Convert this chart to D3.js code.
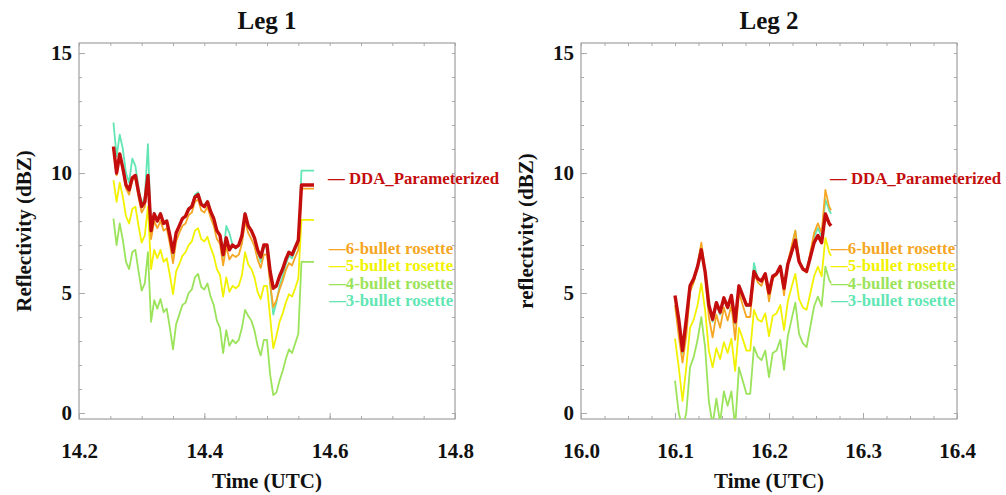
<!DOCTYPE html>
<html>
<head>
<meta charset="utf-8">
<script src="https://cdn.jsdelivr.net/npm/d3@7"></script>
<style>
  body { margin: 0; background: #fff; }
  svg text { font-family: "Liberation Serif", "Times New Roman", serif; font-weight: bold; }
</style>
</head>
<body>
<svg id="chart" width="1006" height="495"></svg>
<script>
// ---- series names / colours ----
const seriesNames = ["DDA_Parameterized", "6-bullet rosette", "5-bullet rosette", "4-bullet rosette", "3-bullet rosette"];
const seriesColors = ["#c40d0d", "#f5a623", "#f2f200", "#9be35a", "#62e6b4"];

// ---- tick labels ----
const yTicks = [0, 5, 10, 15];
const leg1Ticks = [14.2, 14.4, 14.6, 14.8];
const leg2Ticks = [16.0, 16.1, 16.2, 16.3, 16.4];

// ---- Leg 1 (time in decimal hours UTC, reflectivity in dBZ) ----
const leg1Time = [14.255, 14.260, 14.265, 14.270, 14.275, 14.280, 14.285, 14.290, 14.295, 14.300,
  14.305, 14.310, 14.315, 14.320, 14.325, 14.330, 14.335, 14.340, 14.345, 14.350,
  14.355, 14.360, 14.365, 14.370, 14.375, 14.380, 14.385, 14.390, 14.395, 14.400,
  14.405, 14.410, 14.415, 14.420, 14.425, 14.430, 14.435, 14.440, 14.445, 14.450,
  14.455, 14.460, 14.465, 14.470, 14.475, 14.480, 14.485, 14.490, 14.495, 14.500,
  14.505, 14.510, 14.515, 14.520, 14.525, 14.530, 14.535, 14.540, 14.545, 14.550,
  14.555, 14.560, 14.565, 14.570, 14.575];
const leg1DDA = [11.1, 10.0, 10.8, 10.2, 9.5, 9.3, 9.8, 9.9, 9.2, 8.6,
  8.8, 9.9, 7.6, 8.3, 8.0, 8.3, 7.9, 8.0, 7.4, 6.7,
  7.5, 7.8, 8.1, 8.2, 8.5, 8.6, 9.0, 9.1, 8.7, 8.6,
  8.8, 8.4, 8.1, 7.6, 7.4, 6.6, 7.3, 6.8, 7.0, 6.9,
  7.0, 7.4, 8.3, 7.8, 7.6, 7.3, 6.8, 6.5, 7.0, 7.0,
  5.9, 5.2, 5.3, 5.7, 6.0, 6.4, 6.7, 6.6, 6.9, 7.2,
  9.5, 9.5, 9.5, 9.5, 9.5];
const leg1Bullet6 = [11.1, 9.9, 10.8, 10.1, 9.35, 9.1, 9.7, 9.8, 9.0, 8.35,
  8.6, 9.8, 7.25, 8.0, 7.7, 8.0, 7.6, 7.7, 7.05, 6.25,
  7.15, 7.5, 7.8, 7.9, 8.25, 8.35, 8.8, 8.9, 8.45, 8.35,
  8.6, 8.15, 7.8, 7.25, 7.05, 6.15, 6.95, 6.4, 6.6, 6.5,
  6.6, 7.05, 8.0, 7.5, 7.25, 6.95, 6.4, 6.05, 6.6, 6.6,
  5.4, 4.4, 4.7, 5.15, 5.5, 5.95, 6.25, 6.15, 6.5, 6.8,
  9.35, 9.35, 9.35, 9.35, 9.35];
const leg1Bullet5 = [9.7, 8.8, 9.6, 9.0, 8.2, 7.9, 8.5, 8.6, 7.8, 7.1,
  7.4, 8.6, 6.0, 6.8, 6.45, 6.8, 6.3, 6.45, 5.75, 4.95,
  5.9, 6.2, 6.55, 6.7, 7.0, 7.15, 7.6, 7.7, 7.25, 7.15,
  7.35, 6.9, 6.55, 6.0, 5.75, 4.85, 5.65, 5.05, 5.3, 5.2,
  5.3, 5.75, 6.7, 6.2, 6.0, 5.65, 5.05, 4.75, 5.3, 5.3,
  4.0, 2.7, 3.2, 3.8, 4.15, 4.6, 4.95, 4.85, 5.2, 5.6,
  8.05, 8.05, 8.05, 8.05, 8.05];
const leg1Bullet4 = [8.1, 7.0, 7.9, 7.2, 6.3, 6.0, 6.7, 6.8, 5.9, 5.1,
  5.4, 6.7, 3.8, 4.7, 4.35, 4.75, 4.2, 4.35, 3.55, 2.65,
  3.7, 4.1, 4.5, 4.6, 5.0, 5.15, 5.65, 5.8, 5.25, 5.15,
  5.4, 4.85, 4.5, 3.85, 3.55, 2.5, 3.45, 2.8, 3.05, 2.9,
  3.05, 3.55, 4.3, 4.05, 3.85, 3.45, 2.8, 2.4, 3.05, 3.05,
  1.6, 0.75, 0.85, 1.35, 1.75, 2.25, 2.65, 2.5, 2.9, 3.3,
  6.3, 6.3, 6.3, 6.3, 6.3];
const leg1Bullet3 = [12.1, 10.7, 11.6, 11.0, 10.0, 9.6, 10.6, 10.3, 9.4, 8.7,
  9.0, 11.2, 7.5, 8.35, 8.05, 8.35, 7.9, 8.05, 7.35, 6.6,
  7.5, 7.8, 8.1, 8.25, 8.55, 8.65, 9.1, 9.2, 8.75, 8.65,
  8.85, 8.45, 8.15, 7.6, 7.4, 6.5, 7.8, 7.5, 7.0, 6.85,
  7.0, 7.4, 8.35, 7.85, 7.6, 7.25, 6.7, 6.3, 6.9, 6.9,
  5.4, 4.1, 4.6, 5.3, 5.7, 6.2, 6.55, 6.45, 6.8, 7.1,
  10.1, 10.1, 10.1, 10.1, 10.1];

// ---- Leg 2 ----
const leg2Time = [16.100, 16.104, 16.108, 16.112, 16.116, 16.120, 16.124, 16.128, 16.132, 16.136,
  16.140, 16.144, 16.148, 16.152, 16.156, 16.160, 16.164, 16.168, 16.172, 16.176,
  16.180, 16.184, 16.188, 16.192, 16.196, 16.200, 16.204, 16.208, 16.212, 16.216,
  16.220, 16.224, 16.228, 16.232, 16.236, 16.240, 16.244, 16.248, 16.252, 16.256,
  16.260, 16.264, 16.266];
const leg2DDA = [4.9, 3.9, 2.6, 3.9, 5.3, 5.6, 6.1, 6.8, 5.9, 4.5,
  3.9, 4.6, 4.2, 4.8, 4.4, 4.9, 3.8, 5.3, 4.9, 4.5,
  4.5, 5.9, 5.6, 5.5, 5.8, 5.0, 5.7, 5.8, 6.1, 5.2,
  6.2, 6.7, 7.2, 6.3, 6.0, 5.9, 6.5, 7.1, 7.4, 7.1,
  8.3, 7.9, 7.8];
const leg2Bullet6 = [4.5, 3.2, 2.1, 3.2, 5.05, 5.45, 6.15, 7.1, 5.85, 4.0,
  3.15, 4.1, 3.55, 4.4, 3.85, 4.5, 3.05, 5.05, 4.5, 4.0,
  4.0, 5.85, 5.45, 5.3, 5.75, 4.65, 5.6, 5.75, 6.15, 4.9,
  6.25, 6.95, 7.6, 6.4, 6.0, 5.85, 6.7, 7.5, 7.9, 7.5,
  9.3, 8.6, 8.45];
const leg2Bullet5 = [3.1, 1.9, 0.5, 1.9, 3.55, 3.9, 4.5, 5.4, 4.3, 2.6,
  1.9, 2.7, 2.25, 2.95, 2.5, 3.1, 1.75, 3.55, 3.1, 2.6,
  2.6, 4.3, 3.9, 3.8, 4.15, 3.2, 4.05, 4.15, 4.5, 3.45,
  4.65, 5.25, 5.8, 4.75, 4.4, 4.3, 5.0, 5.7, 6.1, 5.7,
  7.3, 6.7, 6.55];
const leg2Bullet4 = [1.35, 0.0, -0.6, 0.0, 1.9, 2.35, 3.05, 4.0, 2.75, 0.5,
  -0.5, 0.6, -0.4, 0.9, 0.3, 0.9, -0.6, 1.9, 1.35, 0.8,
  0.8, 2.75, 2.35, 2.2, 2.6, 1.5, 2.5, 2.6, 3.05, 1.8,
  3.2, 3.9, 4.6, 3.3, 2.9, 2.75, 3.6, 4.45, 4.85, 4.45,
  6.1, 5.55, 5.4];
const leg2Bullet3 = [4.85, 3.8, 2.5, 3.8, 5.25, 5.55, 6.1, 7.0, 5.85, 4.45,
  3.8, 4.55, 4.1, 4.75, 4.35, 4.85, 3.7, 5.25, 4.85, 4.45,
  4.45, 6.25, 5.6, 5.5, 5.8, 4.95, 5.7, 5.8, 6.15, 5.15,
  6.2, 6.85, 7.6, 6.35, 6.0, 5.9, 6.6, 7.35, 7.7, 7.35,
  8.9, 8.45, 8.3];

// ---- panels ----
const panels = [
  {
    title: "Leg 1", yTitle: "Reflectivity (dBZ)",
    left: 79, right: 455, xDomain: [14.2, 14.8], xTicks: leg1Ticks, xMinorStep: 0.05,
    time: leg1Time,
    series: [leg1DDA, leg1Bullet6, leg1Bullet5, leg1Bullet4, leg1Bullet3]
  },
  {
    title: "Leg 2", yTitle: "reflectivity (dBZ)",
    left: 581, right: 957, xDomain: [16.0, 16.4], xTicks: leg2Ticks, xMinorStep: 0.025,
    time: leg2Time,
    series: [leg2DDA, leg2Bullet6, leg2Bullet5, leg2Bullet4, leg2Bullet3]
  }
];

const plotTop = 43, plotBottom = 419;
const svg = d3.select("#chart");
const frameColor = "#8c8c8c";
const tickColor = "#a8a8a8";

// draw order: 4-bullet, 5-bullet, 3-bullet, 6-bullet, DDA on top
const drawOrder = [3, 2, 4, 1, 0];
const lineWidths = [3.4, 1.8, 1.8, 1.8, 1.8];

panels.forEach((p, pi) => {
  const x = d3.scaleLinear().domain(p.xDomain).range([p.left, p.right]);
  const y = d3.scaleLinear().domain([-0.25, 15.42]).range([plotBottom, plotTop]);
  const g = svg.append("g");

  const clipId = "clip" + pi;
  svg.append("defs").append("clipPath").attr("id", clipId)
    .append("rect").attr("x", p.left).attr("y", plotTop)
    .attr("width", p.right - p.left).attr("height", plotBottom - plotTop);

  // frame
  g.append("rect")
    .attr("x", p.left).attr("y", plotTop)
    .attr("width", p.right - p.left).attr("height", plotBottom - plotTop)
    .attr("fill", "none").attr("stroke", frameColor).attr("stroke-width", 1);

  // minor tick values
  const xMinor = d3.range(p.xDomain[0], p.xDomain[1] + 1e-9, p.xMinorStep);
  const yMinor = d3.range(0, 15.01, 1);

  // bottom axis (labels)
  const xAxis = d3.axisBottom(x).tickValues(p.xTicks).tickFormat(d3.format(".1f"))
    .tickSizeInner(-6).tickSizeOuter(0).tickPadding(24);
  const gx = g.append("g").attr("transform", `translate(0,${plotBottom})`).call(xAxis);
  gx.select(".domain").remove();
  gx.selectAll("line").attr("stroke", tickColor);
  gx.selectAll("text").attr("font-size", 21).attr("fill", "#111");

  // minor x ticks, bottom and top
  const gxb = g.append("g").attr("transform", `translate(0,${plotBottom})`)
    .call(d3.axisBottom(x).tickValues(xMinor).tickFormat("").tickSizeInner(-3).tickSizeOuter(0));
  gxb.select(".domain").remove(); gxb.selectAll("line").attr("stroke", tickColor);
  const gxt = g.append("g").attr("transform", `translate(0,${plotTop})`)
    .call(d3.axisTop(x).tickValues(xMinor).tickFormat("").tickSizeInner(-3).tickSizeOuter(0));
  gxt.select(".domain").remove(); gxt.selectAll("line").attr("stroke", tickColor);

  // left axis (labels)
  const yAxis = d3.axisLeft(y).tickValues(yTicks).tickFormat(d3.format("d"))
    .tickSizeInner(-6).tickSizeOuter(0).tickPadding(7);
  const gy = g.append("g").attr("transform", `translate(${p.left},0)`).call(yAxis);
  gy.select(".domain").remove();
  gy.selectAll("line").attr("stroke", tickColor);
  gy.selectAll("text").attr("font-size", 21).attr("fill", "#111");

  // minor y ticks, left and right
  const yl = g.append("g").attr("transform", `translate(${p.left},0)`)
    .call(d3.axisLeft(y).tickValues(yMinor).tickFormat("").tickSizeInner(-3).tickSizeOuter(0));
  yl.select(".domain").remove(); yl.selectAll("line").attr("stroke", tickColor);
  const yr = g.append("g").attr("transform", `translate(${p.right},0)`)
    .call(d3.axisRight(y).tickValues(yMinor).tickFormat("").tickSizeInner(-3).tickSizeOuter(0));
  yr.select(".domain").remove(); yr.selectAll("line").attr("stroke", tickColor);

  // series lines
  const plot = g.append("g").attr("clip-path", `url(#${clipId})`);
  drawOrder.forEach(si => {
    const vals = p.series[si];
    const line = d3.line().x((d, i) => x(p.time[i])).y(d => y(d));
    plot.append("path").datum(vals)
      .attr("d", line)
      .attr("fill", "none")
      .attr("stroke", seriesColors[si])
      .attr("stroke-width", lineWidths[si])
      .attr("stroke-linejoin", "round");
  });

  const cx = (p.left + p.right) / 2;
  // title
  g.append("text").attr("x", cx).attr("y", 29).attr("text-anchor", "middle")
    .attr("font-size", 25).attr("fill", "#111").text(p.title);
  // x title
  g.append("text").attr("x", cx).attr("y", 488).attr("text-anchor", "middle")
    .attr("font-size", 21).attr("fill", "#111").text("Time (UTC)");
  // y title
  g.append("text").attr("transform", `translate(${p.left - 48},${231}) rotate(-90)`)
    .attr("text-anchor", "middle").attr("font-size", 21).attr("fill", "#111").text(p.yTitle);

  // legend
  const lx = p.left + 249;
  g.append("text").attr("x", lx).attr("y", 184)
    .attr("font-size", 16.8).attr("fill", seriesColors[0]).text("\u2014 " + seriesNames[0]);
  [1, 2, 3, 4].forEach((si, k) => {
    g.append("text").attr("x", lx + 1).attr("y", 254 + k * 17.4)
      .attr("font-size", 16.8).attr("fill", seriesColors[si]).text("\u2014" + seriesNames[si]);
  });
});
</script>
</body>
</html>
